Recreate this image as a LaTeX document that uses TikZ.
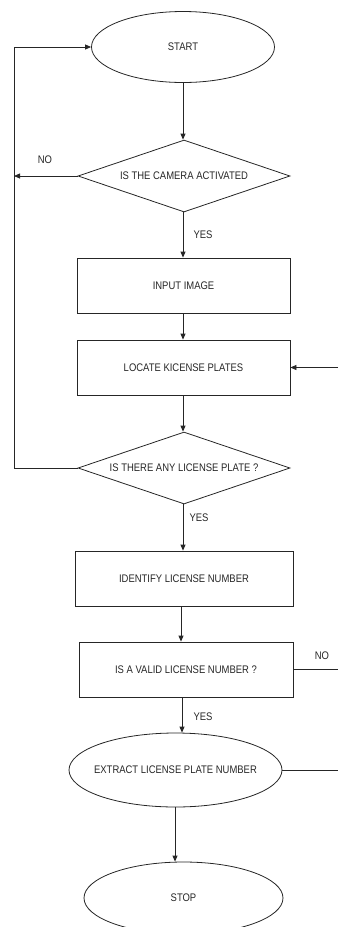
\documentclass[tikz,border=0pt]{standalone}
\usepackage{fontspec}
\setmainfont{Liberation Sans}[FakeStretch=0.86]
\usetikzlibrary{shapes.geometric,arrows.meta}
\tikzset{
  base/.style={draw=black!85, line width=0.8pt, text=black!85, font=\fontsize{11}{13}\selectfont, inner sep=0pt},
  term/.style={base, ellipse},
  proc/.style={base, rectangle},
  dec/.style={base, diamond, aspect=2.94},
  lbl/.style={text=black!85, font=\fontsize{11}{13}\selectfont, inner sep=0pt},
  conn/.style={draw=black!85, line width=0.8pt},
  arr/.style={conn, -{Triangle[length=6pt,width=5pt]}},
}
\begin{document}
\begin{tikzpicture}[x=1pt,y=-1pt]
\useasboundingbox (0,0) rectangle (338,927);
% nodes
\node[term, minimum width=183pt, minimum height=71pt] (start) at (183,47) {START};
\node[dec, minimum width=212pt, minimum height=72pt] (d1) at (184,176) {IS THE CAMERA ACTIVATED};
\node[proc, minimum width=213pt, minimum height=55pt] (in) at (183.5,285.5) {INPUT IMAGE};
\node[proc, minimum width=213pt, minimum height=55pt] (loc) at (183.5,367.5) {LOCATE KICENSE PLATES};
\node[dec, minimum width=212pt, minimum height=72pt] (d2) at (184,468) {IS THERE ANY LICENSE PLATE ?};
\node[proc, minimum width=218pt, minimum height=55pt] (id) at (184,578.5) {IDENTIFY LICENSE NUMBER};
\node[proc, minimum width=214pt, minimum height=55pt] (valid) at (186,669.5) {IS A VALID LICENSE NUMBER ?};
\node[term, inner xsep=-7pt, minimum width=213pt, minimum height=74pt] (ext) at (175.5,770) {EXTRACT LICENSE PLATE NUMBER};
\node[term, minimum width=199pt, minimum height=72pt] (stop) at (183.5,898) {STOP};
% free ends
\coordinate (lA) at (14,47);
\coordinate (lN) at (14,176);
\coordinate (lB) at (14,468);
\coordinate (rA) at (338,367.5);
\coordinate (rB) at (338,669.5);
\coordinate (rC) at (338,770);
% labels
\node[lbl] (no1) at (45,160) {NO};
\node[lbl] (yes1) at (203,235) {YES};
\node[lbl] (yes2) at (199,518) {YES};
\node[lbl] (no2) at (322,656) {NO};
\node[lbl] (yes3) at (203,717) {YES};
% connectors
\draw[arr] (start.south -| 183,0) -- (d1.north -| 183,0);
\draw[arr] (d1.west) -- (lN);
\draw[arr] (d1.south -| 183,0) -- (in.north -| 183,0);
\draw[arr] (in.south -| 183,0) -- (loc.north -| 183,0);
\draw[arr] (rA) -- (loc.east);
\draw[arr] (loc.south -| 183,0) -- (d2.north -| 183,0);
\draw[arr] (d2.west) -- (lB) -- (lA) -- (start.west);
\draw[arr] (d2.south -| 183,0) -- (id.north -| 183,0);
\draw[arr] (id.south -| 181,0) -- (valid.north -| 181,0);
\draw[conn] (valid.east) -- (rB);
\draw[arr] (valid.south -| 182,0) -- (ext.north -| 182,0);
\draw[conn] (ext.east) -- (rC);
\draw[arr] (ext.south -| 175,0) -- (stop.north -| 175,0);
\end{tikzpicture}
\end{document}
